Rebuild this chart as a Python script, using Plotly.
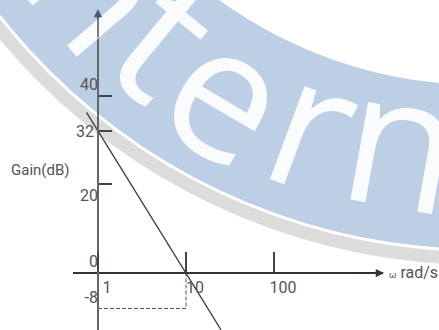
import math
import plotly.graph_objects as go

# straight-line gain asymptote (rad/s, dB)
omega = [0.74, 1, 10, 25]
gain_db = [36.2, 32, 0, -12.8]

# dashed guide down to -8 dB
guide_omega = [1, 10, 10]
guide_db = [-8, -8, 0]

x_ticks = [1, 10, 100]
x_tick_labels = ['1', '10', '100']
y_ticks = [40, 32, 20]
# the sketch puts some labels above / below their level, so they are split
# over three overlaid copies of the same axis
y_mid_vals, y_mid_text = [32], ['32']
y_up_vals, y_up_text = [40, 0, -8], ['40', '0', '-8']
y_down_vals, y_down_text = [20], ['20']

W, H = 439, 330
TOP = 12
X0_PX, Y0_PX = 98, 273   # pixel where omega=1 / 0 dB sit
PX_DECADE = 88
PX_DB = 4.4375

FONT = 'Roboto, Liberation Sans, sans-serif'
TXT = '#555555'


def paper_x(px):
    return px / W


def paper_y(py):
    return (H - py) / (H - TOP)


x_range = [(73 - X0_PX) / PX_DECADE, (383 - X0_PX) / PX_DECADE]
y_range = [-(H - Y0_PX) / PX_DB, (Y0_PX - TOP) / PX_DB]

# watermark ring behind the chart
CX, CY = 481, -361


def disc(r, color):
    return dict(type='circle', xref='paper', yref='paper', layer='below',
                x0=paper_x(CX - r), x1=paper_x(CX + r),
                y0=paper_y(CY + r), y1=paper_y(CY - r),
                fillcolor=color, line_width=0)


shapes = [disc(626, '#dcdcdc'), disc(613, 'white'),
          disc(610, '#bccfe5'), disc(446, 'white')]

annotations = []
# watermark letters: wanted glyph centre in pixels; each is turned to face the ring centre.
# the glyph of a lowercase letter sits a bit left of / below its text-box centre,
# so the box is moved back by that offset after rotation
for ch, gx, gy in [('n', 76, -14), ('t', 143, 47), ('e', 207, 105),
                   ('r', 295, 140), ('n', 387, 160), ('s', 477, 172)]:
    rot = math.degrees(math.atan2(gy - CY, gx - CX)) - 90
    t = math.radians(rot)
    ox = -12 * math.cos(t) - 27 * math.sin(t)
    oy = -12 * math.sin(t) + 27 * math.cos(t)
    annotations.append(dict(
        text=ch, showarrow=False, xref='paper', yref='paper',
        xanchor='center', yanchor='middle',
        x=paper_x(gx - ox), y=paper_y(gy - oy),
        textangle=rot, opacity=0.92,
        font=dict(family='Open Sans, sans-serif', size=185, color='white')))

# axis arrows
annotations.append(dict(text='', showarrow=True, xref='paper', yref='paper',
                        x=paper_x(384), y=paper_y(Y0_PX), ax=-30, ay=0,
                        arrowhead=2, arrowsize=1.1, arrowwidth=1.5, arrowcolor='#333333'))
annotations.append(dict(text='', showarrow=True, xref='paper', yref='paper',
                        x=paper_x(X0_PX), y=paper_y(9), ax=0, ay=30,
                        arrowhead=2, arrowsize=1.1, arrowwidth=1.5, arrowcolor='#4a5a6a'))

annotations.append(dict(text='Gain(dB)', showarrow=False, xref='paper', yref='paper',
                        xanchor='center', yanchor='middle',
                        x=paper_x(40), y=paper_y(170),
                        font=dict(family=FONT, size=15, color=TXT)))
annotations.append(dict(text="<span style='font-size:9px'>ω</span> rad/s", showarrow=False,
                        xref='paper', yref='paper', xanchor='left', yanchor='middle',
                        x=paper_x(387), y=paper_y(272),
                        font=dict(family=FONT, size=16, color=TXT)))

fig = go.Figure()
fig.add_trace(go.Scatter(x=guide_omega, y=guide_db, mode='lines',
                         line=dict(color='#555555', width=1, dash='4px,2px')))
fig.add_trace(go.Scatter(x=omega, y=gain_db, mode='lines',
                         line=dict(color='#3c3c3c', width=1.3)))
# empty traces so the overlaid label axes get drawn
fig.add_trace(go.Scatter(x=[1], y=[0], yaxis='y2', mode='none', hoverinfo='skip'))
fig.add_trace(go.Scatter(x=[1], y=[0], yaxis='y3', mode='none', hoverinfo='skip'))

y_common = dict(range=y_range, domain=[0, 1], anchor='free', position=paper_x(X0_PX),
                showgrid=False, zeroline=False,
                tickfont=dict(family=FONT, size=16, color=TXT))

fig.update_layout(
    width=W, height=H,
    margin=dict(l=0, r=0, t=TOP, b=0),
    paper_bgcolor='white', plot_bgcolor='rgba(0,0,0,0)',
    showlegend=False,
    shapes=shapes, annotations=annotations,
    xaxis=dict(type='log', range=x_range,
               domain=[paper_x(73), paper_x(383)],
               anchor='free', position=paper_y(Y0_PX),
               showline=True, linecolor='#333333', linewidth=1.5,
               ticks='inside', ticklen=20, tickwidth=1.5, tickcolor='#444444',
               tickvals=x_ticks, ticktext=x_tick_labels, ticklabelshift=9,
               showgrid=False, zeroline=False,
               tickfont=dict(family=FONT, size=16, color=TXT)),
    yaxis=dict(**y_common,
               showline=True, linecolor='#666666', linewidth=1.5,
               ticks='inside', ticklen=13, tickwidth=1.5, tickcolor='#444444',
               tickvals=y_ticks,
               ticktext=[y_mid_text[y_mid_vals.index(v)] if v in y_mid_vals else ''
                         for v in y_ticks]),
    yaxis2=dict(**y_common, overlaying='y', showline=False, ticks='',
                tickvals=y_up_vals, ticktext=y_up_text,
                ticklabelposition='outside top'),
    yaxis3=dict(**y_common, overlaying='y', showline=False, ticks='',
                tickvals=y_down_vals, ticktext=y_down_text,
                ticklabelposition='outside bottom'),
)

# the page body has a default 8px margin; drop it so the figure fills the window
fig.write_html('out.html', config={'displayModeBar': False},
               post_script="document.body.style.margin='0px';")
